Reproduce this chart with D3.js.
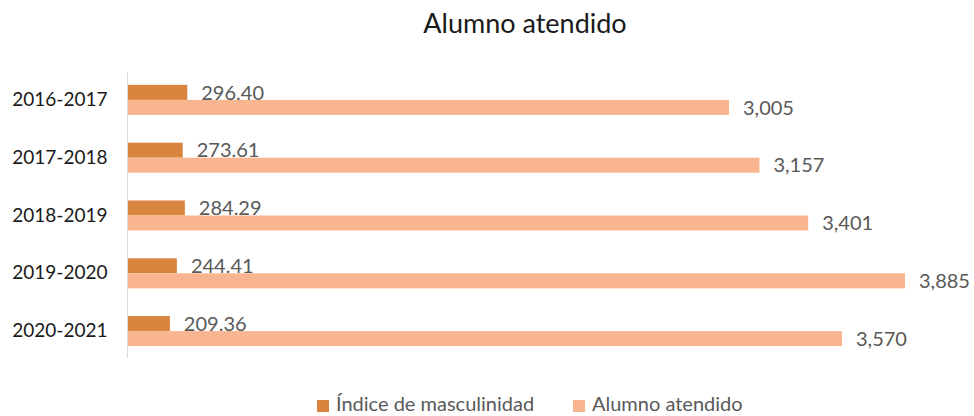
<!DOCTYPE html>
<html>
<head>
<meta charset="utf-8">
<script src="https://cdn.jsdelivr.net/npm/d3@7"></script>
<style>
  html, body { margin: 0; padding: 0; background: #fff; }
  svg { display: block; font-family: Lato, "Open Sans", sans-serif; }
</style>
</head>
<body>
<svg id="chart" width="974" height="416"></svg>
<script>
// Ciclos escolares y series
const categories = ["2016-2017", "2017-2018", "2018-2019", "2019-2020", "2020-2021"];
const indiceMasculinidad = [296.40, 273.61, 284.29, 244.41, 209.36];
const alumnoAtendido = [3005, 3157, 3401, 3885, 3570];
const seriesNames = ["Índice de masculinidad", "Alumno atendido"];
const seriesColors = ["#d9843f", "#f8b590"];

const svg = d3.select("#chart");
const plot = { left: 128, right: 928, top: 71, bottom: 360 };

const x = d3.scaleLinear().domain([0, 4000]).range([plot.left, plot.right]);
const y = d3.scaleBand().domain(categories).range([plot.top, plot.bottom]).paddingInner(0.48).paddingOuter(0.24);
const sub = d3.scaleBand().domain([0, 1]).range([0, y.bandwidth()]);

// Title
svg.append("text")
  .attr("x", 525).attr("y", 33)
  .attr("text-anchor", "middle")
  .attr("font-size", 27)
  .attr("fill", "#1a1a1a")
  .text("Alumno atendido");

// Vertical category axis
const yAxis = d3.axisLeft(y).tickSize(0).tickPadding(20);
const gy = svg.append("g").attr("transform", `translate(${plot.left - 0.5},0)`).call(yAxis);
gy.select(".domain").attr("stroke", "#d9d9d9").attr("stroke-width", 1)
  .attr("d", `M0,${plot.top + 1}V${plot.bottom - 2}`);
gy.selectAll("text").attr("font-size", 19).attr("fill", "#1a1a1a").attr("font-family", "Lato, sans-serif");

const rows = categories.map((c, i) => ({ cat: c, vals: [indiceMasculinidad[i], alumnoAtendido[i]] }));

const groups = svg.append("g").selectAll("g").data(rows).join("g")
  .attr("transform", d => `translate(0,${y(d.cat)})`);

const fmt = [d3.format(",.2f"), d3.format(",")];

groups.selectAll("rect").data(d => d.vals.map((v, k) => ({ v, k }))).join("rect")
  .attr("x", x(0))
  .attr("y", d => sub(d.k))
  .attr("width", d => x(d.v) - x(0))
  .attr("height", sub.bandwidth())
  .attr("fill", d => seriesColors[d.k]);

groups.selectAll("text.val").data(d => d.vals.map((v, k) => ({ v, k }))).join("text")
  .attr("class", "val")
  .attr("x", d => x(d.v) + 14)
  .attr("y", d => sub(d.k) + sub.bandwidth() / 2)
  .attr("dy", "0.36em")
  .attr("font-size", 20)
  .attr("fill", "#595959")
  .text(d => fmt[d.k](d.v));

// Legend
const legendItems = [
  { name: seriesNames[0], color: seriesColors[0], x: 317 },
  { name: seriesNames[1], color: seriesColors[1], x: 573 }
];
const lg = svg.append("g").selectAll("g").data(legendItems).join("g")
  .attr("transform", d => `translate(${d.x},0)`);
lg.append("rect").attr("x", 0).attr("y", 400).attr("width", 12).attr("height", 12)
  .attr("fill", d => d.color);
lg.append("text").attr("x", 19).attr("y", 411)
  .attr("font-size", 20).attr("fill", "#595959")
  .text(d => d.name);
</script>
</body>
</html>
